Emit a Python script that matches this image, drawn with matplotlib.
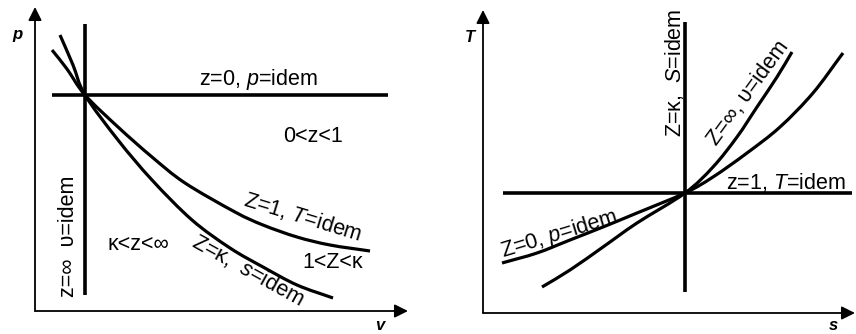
import numpy as np
import matplotlib.pyplot as plt
from matplotlib.path import Path
from matplotlib.patches import PathPatch

plt.rcParams['font.family'] = ['Liberation Sans', 'DejaVu Sans']
plt.rcParams['mathtext.fontset'] = 'custom'
plt.rcParams['mathtext.rm'] = 'Liberation Sans'
plt.rcParams['mathtext.it'] = 'Liberation Sans:italic'

# ------------------------------------------------------------
# p-v diagram (arbitrary units)
# ------------------------------------------------------------
pv_point = (50, 216)                # common state point
pv_isobar_v = [17, 353]             # z = 0
pv_isochore_p = [16, 287]           # z = inf

pv_isotherm_v = [17, 32, 50, 83, 117, 150, 200, 228, 262, 295, 335]
pv_isotherm_p = [261, 242, 216, 184, 154, 128, 99, 86, 74, 66, 60]

pv_adiabat_v = [25, 38, 50, 83, 117, 157, 195, 228, 262, 298]
pv_adiabat_p = [276, 246, 216, 171, 131, 91, 63, 44, 26, 13]

# ------------------------------------------------------------
# T-s diagram (arbitrary units)
# ------------------------------------------------------------
ts_point = (202, 120)
ts_isotherm_s = [20, 369]           # z = 1
ts_adiabat_T = [21, 291]            # z = kappa

ts_isochore_s = [59, 87, 120, 154, 202, 230, 254, 274, 294, 309]
ts_isochore_T = [26, 43, 66, 90, 120, 146, 176, 206, 236, 261]

ts_isobar_s = [19, 54, 87, 120, 154, 202, 230, 264, 297, 330, 360]
ts_isobar_T = [50, 60, 73, 86, 100, 120, 136, 160, 186, 220, 260]

W, H = 856, 334
fig = plt.figure(figsize=(W / 100, H / 100), dpi=100)

ax1 = fig.add_axes([35 / W, 23 / H, 375 / W, 306 / H])
ax2 = fig.add_axes([483 / W, 21 / H, 373 / W, 305 / H])
ax1.set_xlim(0, 375)
ax1.set_ylim(0, 306)
ax2.set_xlim(0, 373)
ax2.set_ylim(0, 305)

for ax in (ax1, ax2):
    ax.set_axis_off()


def draw_axes(ax, xtip, ytip):
    arrow = dict(arrowstyle='-|>', lw=1.3, color='k', mutation_scale=20,
                 shrinkA=0, shrinkB=0)
    ax.annotate('', xy=(xtip, 0), xytext=(0, 0), arrowprops=arrow,
                annotation_clip=False)
    ax.annotate('', xy=(0, ytip), xytext=(0, 0), arrowprops=arrow,
                annotation_clip=False)


def smooth_curve(ax, x, y, lw=2.3):
    # Catmull-Rom through the points, drawn as cubic Bezier segments
    P = np.column_stack([x, y]).astype(float)
    ext = np.vstack([2 * P[0] - P[1], P, 2 * P[-1] - P[-2]])
    verts = [P[0]]
    codes = [Path.MOVETO]
    for i in range(1, len(ext) - 2):
        p0, p1, p2, p3 = ext[i - 1], ext[i], ext[i + 1], ext[i + 2]
        verts += [p1 + (p2 - p0) / 6, p2 - (p3 - p1) / 6, p2]
        codes += [Path.CURVE4] * 3
    ax.add_patch(PathPatch(Path(verts, codes), fill=False, lw=lw,
                           edgecolor='k', capstyle='butt', clip_on=False))


line = dict(color='k', lw=2.6, solid_capstyle='butt', clip_on=False)
fs = 15.5
lab = dict(fontsize=12, fontweight='bold', style='italic',
           ha='center', va='center', clip_on=False)

# --- p-v ---
draw_axes(ax1, 373, 304)
ax1.plot(pv_isobar_v, [pv_point[1]] * 2, **line)
ax1.plot([pv_point[0]] * 2, pv_isochore_p, **line)
smooth_curve(ax1, pv_isotherm_v, pv_isotherm_p)
smooth_curve(ax1, pv_adiabat_v, pv_adiabat_p)

ax1.text(-18, 276, 'p', **lab)
ax1.text(345, -15, 'v', **lab)
ax1.text(223, 232, 'z=0, $p$=idem', fontsize=fs, ha='center', va='center')
ax1.text(278, 174, '0<z<1', fontsize=fs, ha='center', va='center')
ax1.text(268, 94, 'Z=1, $T$=idem', fontsize=fs, ha='center', va='center',
         rotation=-17, rotation_mode='anchor')
ax1.text(298, 49, '1<Z<κ', fontsize=fs, ha='center', va='center')
ax1.text(213, 41, 'Z=κ,  $s$=idem', fontsize=fs, ha='center', va='center',
         rotation=-29, rotation_mode='anchor')
ax1.text(103, 66, 'κ<z<∞', fontsize=fs, ha='center', va='center')
ax1.text(33, 75, 'z=∞  υ=idem', fontsize=fs, ha='center', va='center',
         rotation=90, rotation_mode='anchor')

# --- T-s ---
draw_axes(ax2, 372, 303)
ax2.plot(ts_isotherm_s, [ts_point[1]] * 2, **line)
ax2.plot([ts_point[0]] * 2, ts_adiabat_T, **line)
smooth_curve(ax2, ts_isochore_s, ts_isochore_T)
smooth_curve(ax2, ts_isobar_s, ts_isobar_T)

ax2.text(-13, 276, 'T', **lab)
ax2.text(350, -12, 's', **lab)
ax2.text(191, 240, 'Z=κ,  $S$=idem', fontsize=fs, ha='center', va='center',
         rotation=90, rotation_mode='anchor')
ax2.text(265, 220, 'Z=∞, υ=idem', fontsize=fs, ha='center', va='center',
         rotation=54, rotation_mode='anchor')
ax2.text(303, 131, 'z=1, $T$=idem', fontsize=fs, ha='center', va='center')
ax2.text(76, 79, 'Z=0, $p$=idem', fontsize=fs, ha='center', va='center',
         rotation=17, rotation_mode='anchor')

fig.savefig('out.png', dpi=100)
